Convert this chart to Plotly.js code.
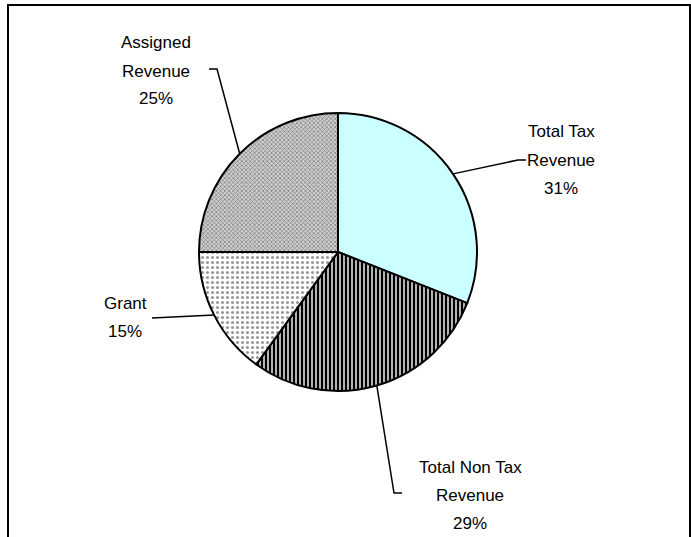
<!DOCTYPE html>
<html>
<head>
<meta charset="utf-8">
<script src="https://cdn.plot.ly/plotly-3.0.1.min.js"></script>
<style>html,body{margin:0;padding:0;background:#fff;}#chart{width:691px;height:537px;}</style>
</head>
<body>
<div id="chart"></div>
<script>
// ---- data ----
const categories = ["Total Tax Revenue", "Total Non Tax Revenue", "Grant", "Assigned Revenue"];
const shares = [31, 29, 15, 25];
const labelLines = [
  ["Total Tax", "Revenue", "31%"],
  ["Total Non Tax", "Revenue", "29%"],
  ["Grant", "15%"],
  ["Assigned", "Revenue", "25%"]
];

// ---- layout geometry (pixels) ----
const W = 691, H = 537;
const cx = 338, cy = 252, R = 139;
const px = x => x / W;
const py = y => 1 - y / H;

// label text centres (first line) and leader line elbows
const labelPos = [
  {x: 561, y: 132, elbow: [[526,160],[518,160]]},
  {x: 470, y: 467, elbow: [[402,493],[394,493]]},
  {x: 125, y: 303, elbow: [[152,318]]},
  {x: 156, y: 43,  elbow: [[209,69],[217,69]]}
];
const lineGap = 28;

const font = {family: "Liberation Sans, Arial, sans-serif", size: 17, color: "#000"};

// mid angles of each slice from data (clockwise from 12 o'clock)
const total = shares.reduce((a,b)=>a+b,0);
let cum = 0;
const annotations = [];
const shapes = [];
shares.forEach((v,i)=>{
  const mid = (cum + v/2) / total * 2*Math.PI;
  cum += v;
  const ex = cx + R*Math.sin(mid), ey = cy - R*Math.cos(mid);
  const pts = [[ex,ey]].concat(labelPos[i].elbow.slice().reverse());
  let d = "M" + pts.map(p=>px(p[0]).toFixed(5)+","+py(p[1]).toFixed(5)).join(" L");
  shapes.push({type:"path", xref:"paper", yref:"paper", path:d, line:{color:"#000", width:1.5}});
  labelLines[i].forEach((t,j)=>{
    annotations.push({xref:"paper", yref:"paper", x:px(labelPos[i].x), y:py(labelPos[i].y + j*lineGap),
      text:t, showarrow:false, xanchor:"center", yanchor:"middle", font:font});
  });
});

// outer frame
shapes.push({type:"rect", xref:"paper", yref:"paper", x0:px(8), x1:px(690), y0:py(560), y1:py(5),
  line:{color:"#000", width:2}, fillcolor:"rgba(0,0,0,0)"});

const trace = {
  type: "pie",
  labels: categories,
  values: shares,
  sort: false,
  direction: "clockwise",
  rotation: 0,
  textinfo: "none",
  hoverinfo: "label+percent",
  showlegend: false,
  domain: {x: [px(cx-R), px(cx+R)], y: [py(cy+R), py(cy-R)]},
  marker: {
    colors: ["#CCFFFF", "#909090", "#ffffff", "#c0c0c0"],
    line: {color: "#000", width: 2},
    pattern: {
      shape: ["", "|", ".", "x"],
      fgcolor: ["#000", "#000", "#999", "#777"],
      bgcolor: ["#CCFFFF", "#c8c8c8", "#ffffff", "#d0d0d0"],
      size: [4, 4, 5, 3],
      solidity: [0.3, 0.55, 0.3, 0.4]
    }
  }
};

const layout = {
  width: W, height: H,
  margin: {l:0, r:0, t:0, b:0},
  paper_bgcolor: "#fff",
  plot_bgcolor: "#fff",
  showlegend: false,
  annotations: annotations,
  shapes: shapes
};

Plotly.newPlot("chart", [trace], layout, {displayModeBar:false, staticPlot:true});
</script>
</body>
</html>
